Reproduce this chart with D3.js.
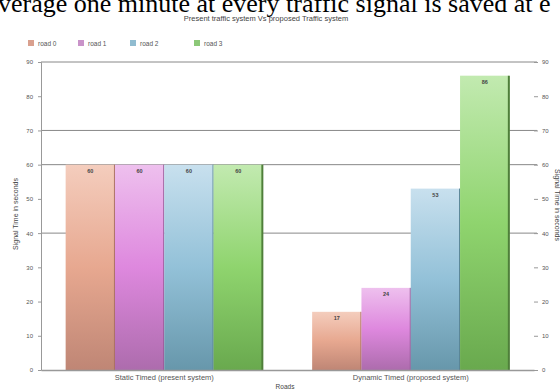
<!DOCTYPE html>
<html>
<head>
<meta charset="utf-8">
<script src="https://cdn.jsdelivr.net/npm/d3@7"></script>
<style>
  body { margin: 0; background: #fff; }
  svg { display: block; }
  .axis text { font: 6px "Liberation Sans", sans-serif; fill: #555; }
  .axis path, .axis line { stroke: #999; }
</style>
</head>
<body>
<svg width="560" height="392"></svg>
<script>
// chart data
var groups = ["Static Timed (present system)", "Dynamic Timed (proposed system)"];
var roads = ["road 0", "road 1", "road 2", "road 3"];
var staticTimes = [60, 60, 60, 60];
var dynamicTimes = [17, 24, 53, 86];
var yTicks = [0, 10, 20, 30, 40, 50, 60, 70, 80, 90];
var gridValues = [40, 60, 70, 90];

var rows = groups.map(function (g, i) {
  var vals = i === 0 ? staticTimes : dynamicTimes;
  return { group: g, values: roads.map(function (r, j) { return { road: r, value: vals[j] }; }) };
});

var svg = d3.select("svg"),
  margin = {top: 62, right: 26, bottom: 22, left: 41},
  width = +svg.attr("width") - margin.left - margin.right,
  height = +svg.attr("height") - margin.top - margin.bottom;

// gradients for the bars (light top, darker bottom)
var shades = {
  "road 0": ["#f4cdbd", "#e7a890", "#bf8675"],
  "road 1": ["#eec0ee", "#de88de", "#ad6cad"],
  "road 2": ["#c8e0ee", "#93c1d8", "#6797ab"],
  "road 3": ["#c2eab0", "#8fd46e", "#69a94e"]
};
var legendColor = {"road 0": "#d9a08e", "road 1": "#c993c9", "road 2": "#90bcd0", "road 3": "#8cc878"};
var edgeColor = {"road 0": "#a97060", "road 1": "#975a97", "road 2": "#5a8596", "road 3": "#4f7f3a"};

var defs = svg.append("defs");
roads.forEach(function (r, i) {
  var grad = defs.append("linearGradient")
    .attr("id", "grad" + i)
    .attr("x1", 0).attr("y1", 0).attr("x2", 0).attr("y2", 1);
  grad.append("stop").attr("offset", "0%").attr("stop-color", shades[r][0]);
  grad.append("stop").attr("offset", "50%").attr("stop-color", shades[r][1]);
  grad.append("stop").attr("offset", "100%").attr("stop-color", shades[r][2]);
});

// piece of the document text above the chart (cut by the page edge)
svg.append("text")
  .attr("x", -2).attr("y", 12)
  .style("font", "26px 'Liberation Serif', serif")
  .attr("fill", "#000")
  .text("verage one minute at every traffic signal is saved at e");

svg.append("text")
  .attr("x", 266).attr("y", 21)
  .attr("text-anchor", "middle")
  .style("font", "7.5px 'Liberation Sans', sans-serif")
  .attr("fill", "#444")
  .text("Present traffic system Vs proposed Traffic system");

var x0 = d3.scaleBand().domain(groups).range([0, width]).paddingInner(0.2).paddingOuter(0.1),
  x1 = d3.scaleBand().domain(roads).range([0, x0.bandwidth()]),
  y = d3.scaleLinear().domain([0, 90]).range([height, 0]);

var g = svg.append("g")
  .attr("transform", "translate(" + margin.left + "," + margin.top + ")");

// horizontal grid lines
g.selectAll(".grid")
  .data(gridValues)
  .enter().append("line")
  .attr("class", "grid")
  .attr("x1", 0).attr("x2", width + 3)
  .attr("y1", function (d) { return y(d); })
  .attr("y2", function (d) { return y(d); })
  .attr("stroke", "#888").attr("stroke-width", 1);

var group = g.selectAll(".group")
  .data(rows)
  .enter().append("g")
  .attr("class", "group")
  .attr("transform", function (d) { return "translate(" + x0(d.group) + ",0)"; });

var bar = group.selectAll(".bar")
  .data(function (d) { return d.values; })
  .enter().append("g")
  .attr("class", "bar");

bar.append("rect")
  .attr("x", function (d) { return x1(d.road); })
  .attr("y", function (d) { return y(d.value); })
  .attr("width", x1.bandwidth())
  .attr("height", function (d) { return height - y(d.value); })
  .attr("fill", function (d) { return "url(#grad" + roads.indexOf(d.road) + ")"; });

// darker right edge of each bar
bar.append("line")
  .attr("x1", function (d) { return x1(d.road) + x1.bandwidth() - 0.5; })
  .attr("x2", function (d) { return x1(d.road) + x1.bandwidth() - 0.5; })
  .attr("y1", function (d) { return y(d.value); })
  .attr("y2", height)
  .attr("stroke", function (d) { return edgeColor[d.road]; })
  .attr("stroke-width", function (d) { return d.road === "road 3" ? 2 : 1; });

bar.append("text")
  .attr("x", function (d) { return x1(d.road) + x1.bandwidth() / 2; })
  .attr("y", function (d) { return y(d.value) + 8; })
  .attr("text-anchor", "middle")
  .style("font", "bold 5.5px 'Liberation Sans', sans-serif")
  .attr("fill", "#444")
  .text(function (d) { return d.value; });

// axes
g.append("g")
  .attr("class", "axis axis--y")
  .call(d3.axisLeft(y).tickValues(yTicks).tickSize(3).tickPadding(5));

g.append("g")
  .attr("class", "axis axis--y2")
  .attr("transform", "translate(" + width + ",0)")
  .call(d3.axisRight(y).tickValues(yTicks).tickSize(4).tickPadding(4))
  .select(".domain").remove();

g.append("g")
  .attr("class", "axis axis--x")
  .attr("transform", "translate(0," + height + ")")
  .call(d3.axisBottom(x0).tickSize(0).tickPadding(5));

g.selectAll(".axis--x text").style("font-size", "7.5px");
g.select(".axis--x .domain").attr("stroke", "#aaa").attr("stroke-width", 1.5);

// axis titles
svg.append("text")
  .attr("transform", "translate(18," + 214 + ") rotate(-90)")
  .attr("text-anchor", "middle")
  .style("font", "7px 'Liberation Sans', sans-serif")
  .attr("fill", "#444")
  .text("Signal Time in seconds");

svg.append("text")
  .attr("transform", "translate(555," + 205 + ") rotate(90)")
  .attr("text-anchor", "middle")
  .style("font", "7px 'Liberation Sans', sans-serif")
  .attr("fill", "#444")
  .text("Signal Time in seconds");

svg.append("text")
  .attr("x", 285).attr("y", 389)
  .attr("text-anchor", "middle")
  .style("font", "6.5px 'Liberation Sans', sans-serif")
  .attr("fill", "#444")
  .text("Roads");

// legend
var legendX = [28, 78, 130, 194];
var legend = svg.selectAll(".legend")
  .data(roads)
  .enter().append("g")
  .attr("class", "legend")
  .attr("transform", function (d, i) { return "translate(" + legendX[i] + ",40)"; });

legend.append("rect")
  .attr("width", 6).attr("height", 6)
  .attr("fill", function (d) { return legendColor[d]; });

legend.append("text")
  .attr("x", 10).attr("y", 5.5)
  .style("font", "6.5px 'Liberation Sans', sans-serif")
  .attr("fill", "#555")
  .text(function (d) { return d; });
</script>
</body>
</html>
